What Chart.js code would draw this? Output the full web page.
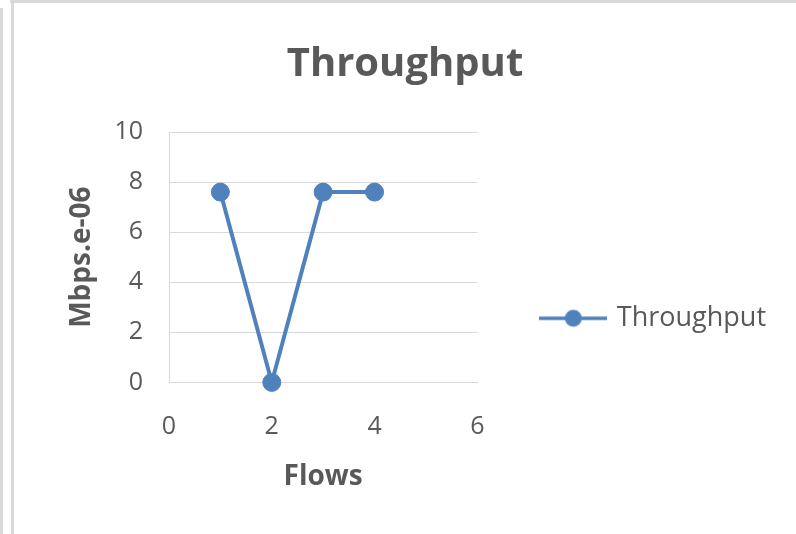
<!DOCTYPE html>
<html>
<head>
<meta charset="utf-8">
<script src="https://cdn.jsdelivr.net/npm/chart.js@4/dist/chart.umd.min.js"></script>
<style>
  html, body { margin: 0; padding: 0; background: #fff; }
  #wrap { position: relative; width: 796px; height: 534px; overflow: hidden; background: #fff; }
  .edge { position: absolute; background: #d9d9d9; }
  #c { position: absolute; left: 14px; top: 3px; }
</style>
</head>
<body>
<div id="wrap">
  <div class="edge" style="left:10px;top:0;width:786px;height:3px"></div>
  <div class="edge" style="left:11px;top:0;width:3px;height:534px"></div>
  <div class="edge" style="left:0;top:8px;width:3px;height:526px"></div>
  <canvas id="c" width="782" height="531"></canvas>
</div>
<script>
// Flow numbers and measured throughput (Mbps, scaled by 1e-06)
const flows = [1, 2, 3, 4];
const throughput = [7.6, 0, 7.6, 7.6];
const seriesName = 'Throughput';
const chartTitle = 'Throughput';
const xTitle = 'Flows';
const yTitle = 'Mbps.e-06';
const xRange = [0, 6];
const yRange = [0, 10];
const tickStep = 2;

const BLUE = '#4F81BD';
const TEXT = '#595959';
const GRID = '#d9d9d9';
const FONT = "'Open Sans', 'Liberation Sans', sans-serif";

// Legend marker: a short line with a round dot on it
function legendMarker() {
  const w = 68, h = 20;
  const cv = document.createElement('canvas');
  cv.width = w; cv.height = h;
  const g = cv.getContext('2d');
  g.strokeStyle = BLUE;
  g.lineWidth = 3.5;
  g.beginPath(); g.moveTo(0, h / 2); g.lineTo(w, h / 2); g.stroke();
  g.fillStyle = BLUE;
  g.beginPath(); g.arc(w / 2, h / 2, 8.5, 0, Math.PI * 2); g.fill();
  return cv;
}
const marker = legendMarker();

const points = flows.map((f, i) => ({ x: f, y: throughput[i] }));

new Chart(document.getElementById('c'), {
  type: 'line',
  data: {
    datasets: [{
      label: seriesName,
      data: points,
      borderColor: BLUE,
      backgroundColor: BLUE,
      borderWidth: 4,
      pointRadius: 9,
      pointHoverRadius: 9,
      pointBorderWidth: 1,
      pointBackgroundColor: BLUE,
      pointBorderColor: BLUE,
      tension: 0,
      fill: false,
      clip: false
    }]
  },
  options: {
    responsive: false,
    animation: false,
    events: [],
    layout: { padding: { left: 20, right: 20, top: 0, bottom: 40 } },
    plugins: {
      title: {
        display: true,
        text: chartTitle,
        color: TEXT,
        font: { family: FONT, size: 40, weight: 'bold' },
        padding: { top: 38, bottom: 43 }
      },
      legend: {
        position: 'right',
        maxWidth: 320,
        // empty legend heading, used only to push the entry lower
        title: { display: true, text: '', font: { size: 8 }, padding: { top: 130, bottom: 0 } },
        labels: {
          color: TEXT,
          font: { family: FONT, size: 27 },
          usePointStyle: true,
          pointStyle: marker,
          pointStyleWidth: 60,
          padding: 30,
          generateLabels(chart) {
            return chart.data.datasets.map((ds, i) => ({
              text: ds.label,
              fontColor: TEXT,
              pointStyle: marker,
              hidden: false,
              datasetIndex: i,
              lineWidth: 0
            }));
          }
        }
      },
      tooltip: { enabled: false }
    },
    scales: {
      x: {
        type: 'linear',
        min: xRange[0],
        max: xRange[1],
        ticks: { stepSize: tickStep, color: TEXT, font: { family: FONT, size: 25 }, padding: 29 },
        grid: { display: false, drawTicks: false },
        border: { display: true, color: GRID, width: 1 },
        title: {
          display: true, text: xTitle, color: TEXT,
          font: { family: FONT, size: 28, weight: 'bold' },
          padding: { top: -10, bottom: 0 }
        }
      },
      y: {
        min: yRange[0],
        max: yRange[1],
        ticks: { stepSize: tickStep, color: TEXT, font: { family: FONT, size: 25 }, padding: 26 },
        grid: { color: GRID, lineWidth: 1, drawTicks: false },
        border: { display: true, color: GRID, width: 1 },
        title: {
          display: true, text: yTitle, color: TEXT,
          font: { family: FONT, size: 28, weight: 'bold' },
          padding: { top: 31, bottom: 0 }
        },
        afterFit(scale) { scale.width = 135; }
      },
      gap: {
        position: 'right',
        display: true,
        grid: { display: false, drawOnChartArea: false, drawTicks: false },
        border: { display: false },
        ticks: { display: false },
        afterFit(scale) { scale.width = 36; }
      }
    }
  }
});
</script>
</body>
</html>
